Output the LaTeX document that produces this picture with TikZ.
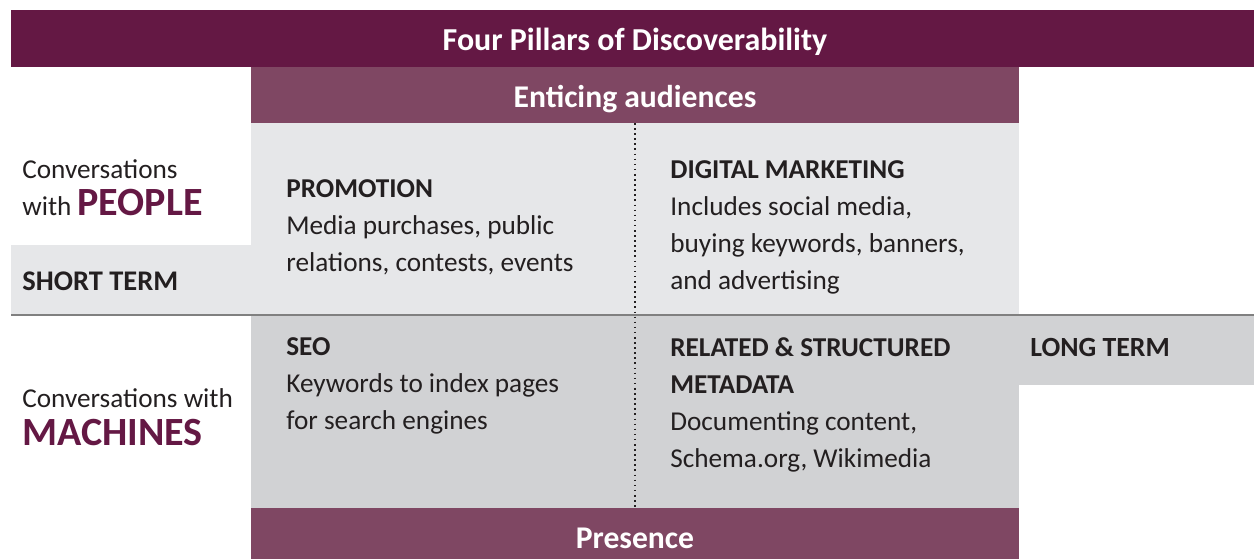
\documentclass[tikz,border=0pt]{standalone}
\usepackage{fontspec}
\setmainfont{Carlito}
\definecolor{pillar}{HTML}{641844}
\definecolor{band}{HTML}{7F4763}
\definecolor{upper}{HTML}{E6E7E9}
\definecolor{lower}{HTML}{D1D2D4}
\definecolor{ink}{HTML}{231F20}
\newcommand{\bodyfont}{\fontsize{15.5}{21}\selectfont}
\newcommand{\bigfont}{\fontsize{22.8}{26}\selectfont\bfseries}
\begin{document}
\begin{tikzpicture}[x=0.02cm,y=-0.02cm,
  every node/.style={inner sep=0pt,text=ink,font=\bodyfont},
  cell/.style={anchor=west,align=left}]
\useasboundingbox (0,0) rectangle (1254,559);
% bands and fields
\fill [pillar] (11,10) rectangle (1254,67);
\fill [band] (251,67) rectangle (1019,123);
\fill [upper] (251,123) rectangle (1019,315);
\fill [upper] (11,245) rectangle (251,315);
\fill [lower] (251,315) rectangle (1019,508);
\fill [lower] (1019,315) rectangle (1254,385);
\fill [band] (251,508) rectangle (1019,559);
\draw [gray, line width=1.1pt] (11,315) -- (1254,315);
\draw [ink, dotted, line width=0.9pt] (635,123) -- (635,508);
% headings
\node [text=white, font=\fontsize{18.2}{21}\selectfont\bfseries] (title) at (635,42) {Four Pillars of Discoverability};
\node [text=white, font=\fontsize{18}{21}\selectfont\bfseries] (enticing) at (635,99) {Enticing audiences};
\node [text=white, font=\fontsize{18}{21}\selectfont\bfseries] (presence) at (635,538) {Presence};
% left side
\node [anchor=base west] (conv1) at (22,178) {Conversations};
\node [anchor=base west] (conv1b) at (22,215) {with \textcolor{pillar}{\bigfont PEOPLE}};
\node [anchor=base west, font=\fontsize{16.2}{21}\selectfont\bfseries] (short) at (22,290) {SHORT TERM};
\node [anchor=base west] (conv2) at (22,407) {Conversations with};
\node [anchor=base west, text=pillar, font=\bigfont] (machines) at (22,445) {MACHINES};
\node [anchor=base west, font=\fontsize{15.8}{21}\selectfont\bfseries] (long) at (1030,356) {LONG TERM};
% the four pillars
\node [cell] (promo) at (286,227) {\textbf{PROMOTION}\\Media purchases, public\\relations, contests, events};
\node [cell] (digital) at (670,227.5) {\textbf{DIGITAL MARKETING}\\Includes social media,\\buying keywords, banners,\\and advertising};
\node [cell] (seo) at (286,386) {\textbf{SEO}\\Keywords to index pages\\for search engines};
\node [cell] (meta) at (670,405) {\textbf{RELATED \& STRUCTURED}\\\textbf{METADATA}\\Documenting content,\\Schema.org, Wikimedia};
\end{tikzpicture}
\end{document}
